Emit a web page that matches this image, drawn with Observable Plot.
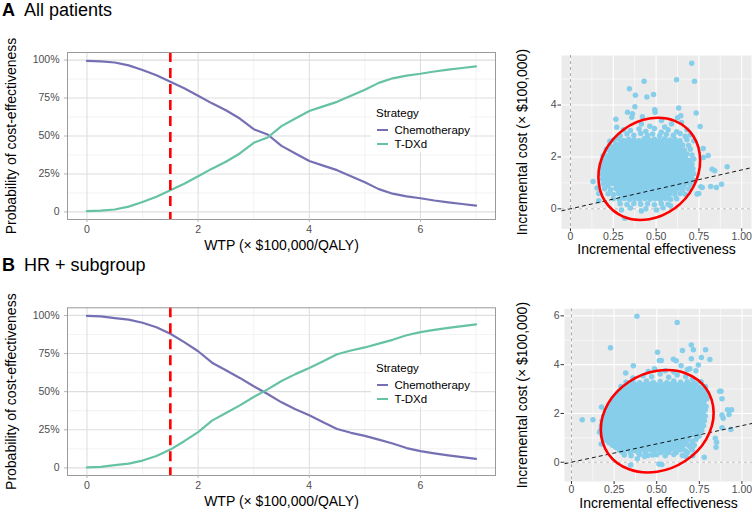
<!DOCTYPE html>
<html><head><meta charset="utf-8">
<script src="https://cdn.jsdelivr.net/npm/d3@7"></script>
<script src="https://cdn.jsdelivr.net/npm/@observablehq/plot@0.6"></script>
<style>
body{margin:0;background:#fff;}
#fig{position:relative;width:752px;height:512px;overflow:hidden;background:#fff;font-family:'Liberation Sans',Arial,Helvetica,sans-serif;}
.abs{position:absolute;white-space:nowrap;}
.ptitle{font-size:18px;line-height:18px;color:#000;}
.leg{font-size:11.5px;line-height:12px;color:#000;}
</style></head><body><div id="fig"></div>
<script>
// ---------- data ----------
const strategies = ["Chemotherapy", "T-DXd"];
const strategyColors = ["#7570B3", "#66C2A5"];
const panelTitles = [["A", "All patients"], ["B", "HR + subgroup"]];
const wtpThreshold = 1.5;

const wtp = [0,0.25,0.5,0.75,1,1.25,1.5,1.75,2,2.25,2.5,2.75,3,3.25,3.5,3.75,4,4.25,4.5,4.75,5,5.25,5.5,5.75,6,6.25,6.5,6.75,7];
const tdxdA = [0.5,0.8,1.6,3.5,6.5,10.0,14.3,18.5,23.5,28.5,33.0,38.5,45.5,49.0,56.5,61.5,66.5,69.5,72.5,76.5,80.5,85.0,88.0,89.8,91.0,92.5,93.7,94.8,95.8];
const chemoA = [99.5,99.2,98.4,96.5,93.5,90.0,85.7,81.5,76.5,71.5,67.0,61.5,54.5,51.0,43.5,38.5,33.5,30.5,27.5,23.5,19.5,15.0,12.0,10.2,9.0,7.5,6.3,5.2,4.2];
const tdxdB = [0.3,0.6,1.8,2.8,4.8,7.8,12.0,17.5,23.5,31.0,36.0,41.0,46.5,51.5,57.0,61.5,65.5,70.0,74.5,77.0,79.0,81.5,84.0,87.0,89.0,90.5,91.8,93.0,94.1];
const chemoB = [99.7,99.4,98.2,97.2,95.2,92.2,88.0,82.5,76.5,69.0,64.0,59.0,53.5,48.5,43.0,38.5,34.5,30.0,25.5,23.0,21.0,18.5,16.0,13.0,11.0,9.5,8.2,7.0,5.9];

const wtpTicks = [0,2,4,6];
const wtpMinor = [1,3,5,7];
const probTicks = [0,25,50,75,100];
const probMinor = [12.5,37.5,62.5,87.5];
const effTicks = [0,0.25,0.5,0.75,1];
const effMinor = [0.125,0.375,0.625,0.875];
const costTicksA = [0,2,4];
const costTicksB = [0,2,4,6];
const costMinor = [1,3,5];

// incremental effectiveness / cost (x $100,000) simulations, panel A: [effectiveness, cost]
const simA = [
[0.708,5.61],[0.430,4.92],[0.619,4.98],[0.724,4.92],[0.344,4.63],[0.379,4.38],[0.446,4.31],[0.485,4.41],[0.376,3.93],[0.492,3.82],[0.494,3.72],[0.632,3.89],[0.333,3.72],[0.362,3.66],[0.358,3.53],[0.265,3.45],[0.420,3.55],[0.734,3.69],[0.625,3.51],[0.644,3.59],[0.270,3.14],[0.757,3.17],[0.648,3.33],[0.463,3.18],[0.531,3.40],[0.590,3.27],[0.414,3.27],[0.550,3.15],[0.310,3.05],[0.680,3.05],[0.700,2.85],[0.720,2.62],[0.230,2.60],[0.210,2.30],[0.190,2.05],
[0.915,1.62],[0.882,0.95],[0.852,0.82],[0.819,0.86],[0.827,1.53],[0.842,1.47],[0.775,2.33],[0.804,2.06],[0.776,1.98],[0.769,0.82],[0.749,0.59],[0.761,0.85],[0.739,0.57],
[0.132,1.05],[0.156,0.80],[0.165,0.59],[0.165,0.31],[0.218,0.89],
[0.298,-0.05],[0.317,-0.36],[0.414,-0.08],[0.502,-0.05],[0.584,0.12],
[0.35,3.02],[0.40,3.08],[0.44,2.98],[0.49,3.1],[0.53,2.95],[0.57,3.05],[0.62,2.97],
[0.29,2.82],[0.33,2.88],[0.37,2.84],[0.41,2.9],[0.45,2.83],[0.48,2.88],[0.52,2.82],[0.56,2.87],[0.60,2.84],[0.64,2.9],[0.67,2.8],
[0.25,2.64],[0.28,2.7],[0.31,2.63],[0.34,2.68],[0.37,2.66],[0.40,2.62],[0.43,2.7],[0.46,2.65],[0.49,2.68],[0.52,2.63],[0.55,2.7],[0.58,2.65],[0.61,2.68],[0.64,2.62],[0.68,2.66],
[0.23,2.45],[0.265,2.5],[0.295,2.44],[0.325,2.49],[0.355,2.46],[0.385,2.5],[0.415,2.45],[0.445,2.48],[0.475,2.44],[0.505,2.5],[0.535,2.46],[0.565,2.49],[0.595,2.45],[0.625,2.5],[0.655,2.46],[0.69,2.44],
[0.215,2.3],[0.245,2.26],[0.275,2.31],[0.305,2.27],[0.335,2.3],[0.365,2.25],[0.395,2.29],[0.425,2.27],[0.455,2.31],[0.485,2.26],[0.515,2.3],[0.545,2.27],[0.575,2.31],[0.605,2.26],[0.635,2.29],[0.665,2.27],[0.70,2.3],
[0.20,2.1],[0.23,2.07],[0.26,2.11],[0.29,2.08],[0.32,2.1],[0.35,2.06],[0.38,2.11],[0.41,2.08],[0.44,2.1],[0.47,2.07],[0.50,2.11],[0.53,2.08],[0.56,2.1],[0.59,2.06],[0.62,2.1],[0.65,2.08],[0.68,2.11],[0.71,2.07],
[0.19,1.9],[0.215,1.87],[0.245,1.92],[0.275,1.88],[0.305,1.91],[0.335,1.87],[0.365,1.92],[0.395,1.89],[0.425,1.91],[0.455,1.88],[0.485,1.92],[0.515,1.89],[0.545,1.91],[0.575,1.87],[0.605,1.92],[0.635,1.88],[0.665,1.9],[0.695,1.87],[0.72,1.92],
[0.18,1.72],[0.20,1.68],[0.23,1.73],[0.26,1.69],[0.29,1.72],[0.32,1.7],[0.35,1.73],[0.38,1.69],[0.41,1.72],[0.44,1.7],[0.47,1.73],[0.50,1.69],[0.53,1.72],[0.56,1.7],[0.59,1.73],[0.62,1.69],[0.65,1.72],[0.68,1.7],[0.71,1.73],
[0.175,1.52],[0.205,1.5],[0.235,1.54],[0.265,1.5],[0.295,1.53],[0.325,1.49],[0.355,1.54],[0.385,1.51],[0.415,1.53],[0.445,1.5],[0.475,1.54],[0.505,1.51],[0.535,1.53],[0.565,1.49],[0.595,1.54],[0.625,1.5],[0.655,1.53],[0.685,1.51],[0.715,1.54],
[0.18,1.34],[0.21,1.3],[0.24,1.35],[0.27,1.31],[0.30,1.34],[0.33,1.3],[0.36,1.35],[0.39,1.32],[0.42,1.34],[0.45,1.31],[0.48,1.35],[0.51,1.32],[0.54,1.34],[0.57,1.3],[0.60,1.35],[0.63,1.31],[0.66,1.34],[0.69,1.32],[0.72,1.35],
[0.185,1.14],[0.215,1.12],[0.245,1.16],[0.275,1.12],[0.305,1.15],[0.335,1.11],[0.365,1.16],[0.395,1.13],[0.425,1.15],[0.455,1.12],[0.485,1.16],[0.515,1.13],[0.545,1.15],[0.575,1.11],[0.605,1.16],[0.635,1.12],[0.665,1.15],[0.695,1.13],[0.72,1.1],
[0.19,0.96],[0.22,0.93],[0.25,0.97],[0.28,0.93],[0.31,0.96],[0.34,0.92],[0.37,0.97],[0.40,0.94],[0.43,0.96],[0.46,0.93],[0.49,0.97],[0.52,0.94],[0.55,0.96],[0.58,0.92],[0.61,0.97],[0.64,0.93],[0.67,0.96],[0.70,0.94],
[0.20,0.77],[0.235,0.74],[0.265,0.78],[0.295,0.74],[0.325,0.77],[0.355,0.73],[0.385,0.78],[0.415,0.75],[0.445,0.77],[0.475,0.74],[0.505,0.78],[0.535,0.75],[0.565,0.77],[0.595,0.73],[0.625,0.78],[0.655,0.74],[0.69,0.76],
[0.22,0.58],[0.25,0.55],[0.28,0.59],[0.31,0.55],[0.34,0.58],[0.37,0.54],[0.40,0.59],[0.43,0.56],[0.46,0.58],[0.49,0.55],[0.52,0.59],[0.55,0.56],[0.58,0.58],[0.61,0.54],[0.64,0.59],[0.67,0.56],
[0.25,0.39],[0.285,0.36],[0.315,0.4],[0.345,0.36],[0.375,0.39],[0.405,0.35],[0.435,0.4],[0.465,0.37],[0.495,0.39],[0.525,0.36],[0.555,0.4],[0.585,0.37],[0.62,0.39],
[0.29,0.2],[0.33,0.17],[0.37,0.21],[0.41,0.18],[0.45,0.2],[0.49,0.16],[0.53,0.21],[0.57,0.18],
[0.35,0.03],[0.44,0.0],[0.54,0.04]
];
// dense core of panel A, by cost level: [cost, effectiveness values]
const coreA = [
[2.56,[0.295,0.325,0.355,0.385,0.415,0.445,0.475,0.505,0.535,0.565,0.595,0.625]],
[2.375,[0.25,0.28,0.31,0.34,0.37,0.40,0.43,0.46,0.49,0.52,0.55,0.58,0.61,0.64]],
[2.185,[0.235,0.265,0.295,0.325,0.355,0.385,0.415,0.445,0.475,0.505,0.535,0.565,0.595,0.625,0.655]],
[1.995,[0.22,0.25,0.28,0.31,0.34,0.37,0.40,0.43,0.46,0.49,0.52,0.55,0.58,0.61,0.64,0.67]],
[1.805,[0.205,0.235,0.265,0.295,0.325,0.355,0.385,0.415,0.445,0.475,0.505,0.535,0.565,0.595,0.625,0.655,0.685]],
[1.615,[0.19,0.22,0.25,0.28,0.31,0.34,0.37,0.40,0.43,0.46,0.49,0.52,0.55,0.58,0.61,0.64,0.67,0.70]],
[1.425,[0.19,0.22,0.25,0.28,0.31,0.34,0.37,0.40,0.43,0.46,0.49,0.52,0.55,0.58,0.61,0.64,0.67,0.70]],
[1.235,[0.195,0.225,0.255,0.285,0.315,0.345,0.375,0.405,0.435,0.465,0.495,0.525,0.555,0.585,0.615,0.645,0.675,0.705]],
[1.045,[0.20,0.23,0.26,0.29,0.32,0.35,0.38,0.41,0.44,0.47,0.50,0.53,0.56,0.59,0.62,0.65,0.68]],
[0.855,[0.27,0.30,0.33,0.36,0.39,0.42,0.45,0.48,0.51,0.54,0.57,0.60,0.63,0.66]],
[0.665,[0.28,0.31,0.34,0.37,0.40,0.43,0.46,0.49,0.52,0.55,0.58,0.61]],
[0.475,[0.30,0.33,0.36,0.39,0.42,0.45,0.48,0.51,0.54,0.57]]
];

// panel B
const simB = [
[0.384,5.98],[0.620,5.73],[0.229,4.69],[0.505,4.51],[0.651,4.58],[0.703,4.81],[0.715,4.61],[0.787,4.61],[0.515,4.17],[0.527,4.17],[0.762,4.29],[0.812,4.21],[0.703,4.24],[0.598,4.22],[0.614,4.16],[0.363,3.96],[0.643,3.96],[0.744,3.99],[0.318,3.66],[0.694,3.83],[0.487,3.83],[0.869,2.91],
[0.063,1.74],[0.126,1.74],[0.176,2.26],[0.165,1.23],[0.174,0.75],
[0.877,2.91],[0.883,2.60],[0.916,2.15],[0.939,2.15],[0.924,1.96],[0.890,1.80],[0.883,1.94],[0.935,1.34],[0.883,1.41],[0.844,0.98],[0.851,0.82],[0.848,0.61],[0.779,0.20],
[0.347,-0.11],[0.513,-0.07],[0.530,-0.09],[0.386,0.14],[0.429,0.23],[0.476,0.30],[0.672,0.23],[0.711,0.27],
[0.36,3.45],[0.42,3.55],[0.47,3.5],[0.52,3.62],[0.57,3.48],[0.62,3.58],[0.67,3.5],[0.71,3.42],[0.45,3.72],[0.55,3.75],[0.60,3.7],[0.73,3.75],[0.68,3.8],
[0.32,3.28],[0.36,3.32],[0.40,3.26],[0.44,3.33],[0.48,3.27],[0.52,3.31],[0.56,3.26],[0.60,3.33],[0.64,3.28],[0.68,3.3],[0.72,3.25],[0.76,3.3],
[0.29,3.1],[0.32,3.06],[0.355,3.11],[0.385,3.07],[0.415,3.1],[0.445,3.06],[0.475,3.12],[0.505,3.08],[0.535,3.1],[0.565,3.06],[0.595,3.11],[0.625,3.07],[0.655,3.1],[0.685,3.06],[0.715,3.11],[0.75,3.07],[0.785,3.1],
[0.28,2.9],[0.31,2.87],[0.34,2.92],[0.37,2.88],[0.40,2.91],[0.43,2.86],[0.46,2.92],[0.49,2.88],[0.52,2.9],[0.55,2.87],[0.58,2.92],[0.61,2.88],[0.64,2.91],[0.67,2.86],[0.70,2.92],[0.73,2.88],[0.76,2.9],[0.795,2.86],
[0.26,2.7],[0.29,2.67],[0.32,2.72],[0.35,2.68],[0.38,2.71],[0.41,2.66],[0.44,2.72],[0.47,2.68],[0.50,2.7],[0.53,2.67],[0.56,2.72],[0.59,2.68],[0.62,2.71],[0.65,2.66],[0.68,2.72],[0.71,2.68],[0.74,2.7],[0.77,2.67],[0.80,2.72],
[0.24,2.5],[0.27,2.46],[0.30,2.52],[0.33,2.48],[0.36,2.51],[0.39,2.47],[0.42,2.53],[0.45,2.49],[0.48,2.51],[0.51,2.47],[0.54,2.52],[0.57,2.48],[0.60,2.5],[0.63,2.46],[0.66,2.52],[0.69,2.48],[0.72,2.51],[0.75,2.47],[0.78,2.52],
[0.225,2.3],[0.255,2.27],[0.285,2.32],[0.315,2.28],[0.345,2.31],[0.375,2.26],[0.405,2.32],[0.435,2.28],[0.465,2.3],[0.495,2.27],[0.525,2.32],[0.555,2.28],[0.585,2.31],[0.615,2.26],[0.645,2.32],[0.675,2.28],[0.705,2.3],[0.735,2.27],[0.765,2.32],[0.79,2.28],
[0.20,2.1],[0.23,2.07],[0.26,2.12],[0.29,2.08],[0.32,2.11],[0.35,2.06],[0.38,2.12],[0.41,2.08],[0.44,2.1],[0.47,2.07],[0.50,2.12],[0.53,2.08],[0.56,2.11],[0.59,2.06],[0.62,2.12],[0.65,2.08],[0.68,2.1],[0.71,2.07],[0.74,2.12],[0.77,2.08],[0.785,2.14],
[0.19,1.9],[0.215,1.87],[0.245,1.92],[0.275,1.88],[0.305,1.91],[0.335,1.86],[0.365,1.92],[0.395,1.88],[0.425,1.9],[0.455,1.87],[0.485,1.92],[0.515,1.88],[0.545,1.91],[0.575,1.86],[0.605,1.92],[0.635,1.88],[0.665,1.9],[0.695,1.87],[0.725,1.92],[0.755,1.88],[0.785,1.9],
[0.18,1.7],[0.21,1.67],[0.24,1.72],[0.27,1.68],[0.30,1.71],[0.33,1.66],[0.36,1.72],[0.39,1.68],[0.42,1.7],[0.45,1.67],[0.48,1.72],[0.51,1.68],[0.54,1.71],[0.57,1.66],[0.60,1.72],[0.63,1.68],[0.66,1.7],[0.69,1.67],[0.72,1.72],[0.75,1.68],[0.78,1.7],
[0.175,1.5],[0.20,1.47],[0.23,1.52],[0.26,1.48],[0.29,1.51],[0.32,1.46],[0.35,1.52],[0.38,1.48],[0.41,1.5],[0.44,1.47],[0.47,1.52],[0.50,1.48],[0.53,1.51],[0.56,1.46],[0.59,1.52],[0.62,1.48],[0.65,1.5],[0.68,1.47],[0.71,1.52],[0.74,1.48],[0.775,1.5],
[0.17,1.3],[0.195,1.27],[0.225,1.32],[0.255,1.28],[0.285,1.31],[0.315,1.26],[0.345,1.32],[0.375,1.28],[0.405,1.3],[0.435,1.27],[0.465,1.32],[0.495,1.28],[0.525,1.31],[0.555,1.26],[0.585,1.32],[0.615,1.28],[0.645,1.3],[0.675,1.27],[0.705,1.32],[0.735,1.28],[0.765,1.3],
[0.18,1.1],[0.21,1.07],[0.24,1.12],[0.27,1.08],[0.30,1.11],[0.33,1.06],[0.36,1.12],[0.39,1.08],[0.42,1.1],[0.45,1.07],[0.48,1.12],[0.51,1.08],[0.54,1.11],[0.57,1.06],[0.60,1.12],[0.63,1.08],[0.66,1.1],[0.69,1.07],[0.72,1.12],[0.75,1.08],
[0.20,0.9],[0.23,0.87],[0.26,0.92],[0.29,0.88],[0.32,0.91],[0.35,0.86],[0.38,0.92],[0.41,0.88],[0.44,0.9],[0.47,0.87],[0.50,0.92],[0.53,0.88],[0.56,0.91],[0.59,0.86],[0.62,0.92],[0.65,0.88],[0.68,0.9],[0.71,0.87],[0.73,0.93],
[0.24,0.7],[0.27,0.67],[0.30,0.72],[0.33,0.68],[0.36,0.71],[0.39,0.66],[0.42,0.72],[0.45,0.68],[0.48,0.7],[0.51,0.67],[0.54,0.72],[0.57,0.68],[0.60,0.71],[0.63,0.66],[0.66,0.72],[0.69,0.68],[0.72,0.7],
[0.28,0.5],[0.31,0.47],[0.34,0.52],[0.37,0.48],[0.40,0.51],[0.43,0.46],[0.46,0.52],[0.49,0.48],[0.52,0.5],[0.55,0.47],[0.58,0.52],[0.61,0.48],[0.64,0.51],[0.67,0.46],[0.71,0.5],
[0.31,0.3],[0.35,0.27],[0.40,0.32],[0.45,0.28],[0.50,0.31],[0.55,0.27],[0.60,0.32],[0.65,0.28]
];
const coreB = [
[3.2,[0.34,0.37,0.40,0.43,0.46,0.49,0.52,0.55,0.58,0.61,0.64,0.67,0.70,0.73]],
[3.0,[0.30,0.33,0.36,0.39,0.42,0.45,0.48,0.51,0.54,0.57,0.60,0.63,0.66,0.69,0.72,0.75,0.78]],
[2.8,[0.275,0.305,0.335,0.365,0.395,0.425,0.455,0.485,0.515,0.545,0.575,0.605,0.635,0.665,0.695,0.725,0.755,0.785]],
[2.6,[0.255,0.285,0.315,0.345,0.375,0.405,0.435,0.465,0.495,0.525,0.555,0.585,0.615,0.645,0.675,0.705,0.735,0.765,0.795]],
[2.4,[0.235,0.265,0.295,0.325,0.355,0.385,0.415,0.445,0.475,0.505,0.535,0.565,0.595,0.625,0.655,0.685,0.715,0.745,0.775]],
[2.2,[0.215,0.245,0.275,0.305,0.335,0.365,0.395,0.425,0.455,0.485,0.515,0.545,0.575,0.605,0.635,0.665,0.695,0.725,0.755,0.775]],
[2.0,[0.20,0.23,0.26,0.29,0.32,0.35,0.38,0.41,0.44,0.47,0.50,0.53,0.56,0.59,0.62,0.65,0.68,0.71,0.74,0.77]],
[1.8,[0.19,0.22,0.25,0.28,0.31,0.34,0.37,0.40,0.43,0.46,0.49,0.52,0.55,0.58,0.61,0.64,0.67,0.70,0.73,0.77]],
[1.6,[0.185,0.215,0.245,0.275,0.305,0.335,0.365,0.395,0.425,0.455,0.485,0.515,0.545,0.575,0.605,0.635,0.665,0.695,0.725,0.765]],
[1.4,[0.18,0.21,0.24,0.27,0.30,0.33,0.36,0.39,0.42,0.45,0.48,0.51,0.54,0.57,0.60,0.63,0.66,0.69,0.72,0.76]],
[1.2,[0.185,0.215,0.245,0.275,0.305,0.335,0.365,0.395,0.425,0.455,0.485,0.515,0.545,0.575,0.605,0.635,0.665,0.695,0.745]],
[1.0,[0.195,0.225,0.255,0.285,0.315,0.345,0.375,0.405,0.435,0.465,0.495,0.525,0.555,0.585,0.615,0.645,0.675,0.735]],
[0.8,[0.22,0.25,0.28,0.31,0.34,0.37,0.40,0.43,0.46,0.49,0.52,0.55,0.58,0.61,0.64,0.67,0.71]],
[0.6,[0.26,0.29,0.32,0.35,0.38,0.41,0.44,0.47,0.50,0.53,0.56,0.59,0.62,0.65,0.70]],
[0.4,[0.30,0.345,0.39,0.435,0.48,0.525,0.57,0.615,0.68]]
];

// 95% ellipse outlines: [effectiveness, cost]
const ellipseA = [[0.757,1.87],[0.718,0.85],[0.609,0.02],[0.46,-0.40],[0.311,-0.31],[0.202,0.29],[0.163,1.21],[0.202,2.23],[0.311,3.06],[0.46,3.48],[0.609,3.39],[0.718,2.80]];
const ellipseB = [[0.834,2.03],[0.790,0.94],[0.669,0.06],[0.503,-0.39],[0.338,-0.29],[0.216,0.34],[0.172,1.33],[0.216,2.42],[0.338,3.30],[0.503,3.75],[0.669,3.65],[0.790,3.02]];

// ---------- drawing ----------
const FONT = "'Liberation Sans', Arial, Helvetica, sans-serif";
const fig = document.getElementById("fig");

function place(el, left, top) {
  el.style.position = "absolute";
  el.style.left = left + "px";
  el.style.top = top + "px";
  fig.appendChild(el);
}
function div(cls, text, left, top, extra) {
  const d = document.createElement("div");
  d.className = "abs " + cls;
  d.textContent = text;
  d.style.left = left + "px";
  d.style.top = top + "px";
  if (extra) Object.assign(d.style, extra);
  fig.appendChild(d);
  return d;
}
const expand = rows => rows.flatMap(([c, xs]) => xs.map(x => [x, c]));

function ceacPlot(tdxd, chemo, top, height, mt, mb) {
  const data = wtp.flatMap((w, i) => [
    {wtp: w, p: chemo[i], s: strategies[0]},
    {wtp: w, p: tdxd[i], s: strategies[1]}
  ]);
  const svg = Plot.plot({
    width: 500, height, marginLeft: 67, marginRight: 5, marginTop: mt, marginBottom: mb,
    style: {fontFamily: FONT, fontSize: "10.5px", color: "#4D4D4D", background: "transparent", overflow: "visible"},
    x: {domain: [-0.35, 7.35]},
    y: {domain: [-5, 105]},
    color: {domain: strategies, range: strategyColors},
    marks: [
      Plot.ruleX(wtpMinor, {stroke: "#EBEBEB", strokeWidth: 0.6}),
      Plot.ruleY(probMinor, {stroke: "#EBEBEB", strokeWidth: 0.6}),
      Plot.ruleX(wtpTicks, {stroke: "#DEDEDE", strokeWidth: 1.1}),
      Plot.ruleY(probTicks, {stroke: "#DEDEDE", strokeWidth: 1.1}),
      Plot.line(data, {x: "wtp", y: "p", stroke: "s", z: "s", strokeWidth: 2.2}),
      Plot.ruleX([wtpThreshold], {stroke: "#FF0000", strokeWidth: 2.6, strokeDasharray: "10,6"}),
      Plot.frame({stroke: "#9A9A9A", strokeWidth: 1}),
      Plot.axisX(wtpTicks, {tickSize: 3, tickPadding: 3, stroke: "#B3B3B3", fill: "#4D4D4D", label: null}),
      Plot.axisY(probTicks, {tickSize: 3, tickPadding: 5, stroke: "#B3B3B3", fill: "#4D4D4D", label: null,
        tickFormat: d => d === 0 ? "0" : d + "%"}),
      Plot.text(["WTP (× $100,000/QALY)"], {text: d => d, frameAnchor: "bottom", dy: 26, lineAnchor: "middle", fontSize: 14, fill: "#000"}),
      Plot.text(["Probability of cost-effectiveness"], {text: d => d, frameAnchor: "left", textAnchor: "middle", rotate: -90, dx: -56, lineAnchor: "middle", fontSize: 14, fill: "#000"})
    ]
  });
  place(svg, 0, top);
  // legend
  const pTop = top + mt;
  const bg = document.createElement("div");
  Object.assign(bg.style, {background: "#fff", width: "99px", height: "52px"});
  place(bg, 371, pTop + 48);
  div("leg", "Strategy", 376, pTop + 55);
  strategies.forEach((s, i) => {
    const cy = pTop + 78 + i * 14;
    const key = document.createElement("div");
    Object.assign(key.style, {width: "11px", height: "2.2px", background: strategyColors[i]});
    place(key, 377, cy - 1.1);
    div("leg", s, 394.5, cy - 6.5);
  });
}

function scatterPlot(sim, core, ellipse, costTicks, top, height, mt, mb, ml, mr, xDom, yDom, xTitleDy, yTitleDx) {
  const pts = sim.concat(expand(core));
  const svg = Plot.plot({
    width: 252, height, marginLeft: ml, marginRight: mr, marginTop: mt, marginBottom: mb,
    style: {fontFamily: FONT, fontSize: "10.5px", color: "#4D4D4D", background: "transparent", overflow: "visible"},
    x: {domain: xDom},
    y: {domain: yDom},
    marks: [
      Plot.frame({fill: "#EBEBEB", stroke: null}),
      Plot.ruleX(effMinor, {stroke: "#FFFFFF", strokeWidth: 0.6}),
      Plot.ruleY(costMinor, {stroke: "#FFFFFF", strokeWidth: 0.6}),
      Plot.ruleX(effTicks, {stroke: "#FFFFFF", strokeWidth: 1.1}),
      Plot.ruleY(costTicks, {stroke: "#FFFFFF", strokeWidth: 1.1}),
      Plot.ruleX([0], {stroke: "#ABABAB", strokeWidth: 1, strokeDasharray: "3,3"}),
      Plot.ruleY([0], {stroke: "#BDBDBD", strokeWidth: 1, strokeDasharray: "3,3"}),
      Plot.dot(pts, {x: d => d[0], y: d => d[1], r: 2.75, fill: "#87CEEB", stroke: null}),
      Plot.link([xDom], {x1: d => d[0], y1: d => d[0] * wtpThreshold, x2: d => d[1], y2: d => d[1] * wtpThreshold,
        stroke: "#000", strokeWidth: 0.9, strokeDasharray: "4,3"}),
      Plot.line(ellipse, {x: d => d[0], y: d => d[1], curve: "catmull-rom-closed", stroke: "#FF0000", strokeWidth: 2.6, fill: "none"}),
      Plot.axisX(effTicks, {tickSize: 3, tickPadding: 1, stroke: "#333", fill: "#4D4D4D", label: null,
        tickFormat: d => d === 0 ? "0" : d.toFixed(2)}),
      Plot.axisY(costTicks, {tickSize: 3.5, tickPadding: 1.5, stroke: "#333", fill: "#4D4D4D", label: null}),
      Plot.text(["Incremental effectiveness"], {text: d => d, frameAnchor: "bottom", dy: xTitleDy, lineAnchor: "middle", fontSize: 14, fill: "#000"}),
      Plot.text(["Incremental cost (× $100,000)"], {text: d => d, frameAnchor: "left", textAnchor: "middle", rotate: -90, dx: yTitleDx, lineAnchor: "middle", fontSize: 14, fill: "#000"})
    ]
  });
  place(svg, 500, top);
}

// titles
div("ptitle", panelTitles[0][0], 2, 1, {fontWeight: "bold"});
div("ptitle", panelTitles[0][1], 24, 1);
div("ptitle", panelTitles[1][0], 2, 256, {fontWeight: "bold"});
div("ptitle", panelTitles[1][1], 24, 256);

ceacPlot(tdxdA, chemoA, 40, 215, 12, 36);
ceacPlot(tdxdB, chemoB, 295, 217, 12.3, 37);
scatterPlot(simA, coreA, ellipseA, costTicksA, 40, 215, 15, 26.7, 61, 1, [-0.0525, 1.057], [-0.77, 5.91], 21, -39);
scatterPlot(simB, coreB, ellipseB, costTicksB, 295, 217, 13.3, 31, 64, 0, [-0.041, 1.062], [-0.79, 6.29], 22.5, -42);
</script></body></html>
